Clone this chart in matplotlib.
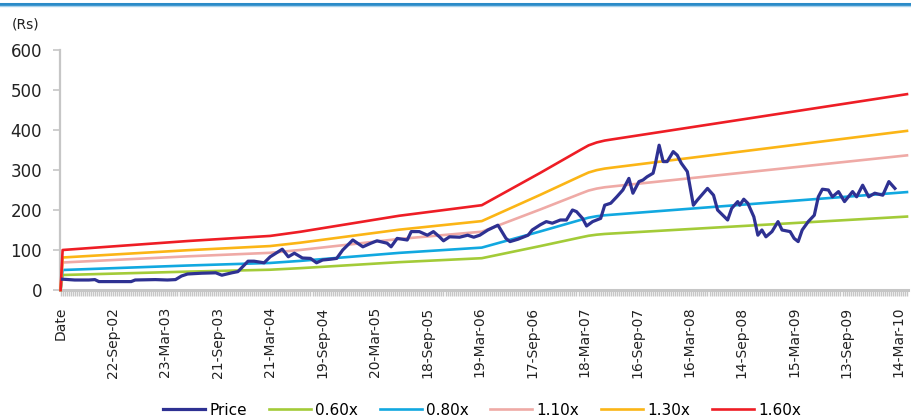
import matplotlib
matplotlib.use("Agg")
import matplotlib.pyplot as plt
from matplotlib.lines import Line2D

# ---------------- data ----------------
n_categories = 421          # "Date" header + 420 weekly observations
tick_step = 26
tick_labels = ["Date", "22-Sep-02", "23-Mar-03", "21-Sep-03", "21-Mar-04", "19-Sep-04",
               "20-Mar-05", "18-Sep-05", "19-Mar-06", "17-Sep-06", "18-Mar-07",
               "16-Sep-07", "16-Mar-08", "14-Sep-08", "15-Mar-09", "13-Sep-09", "14-Mar-10"]

price_week = [1, 7, 14, 17, 19, 27, 35, 37, 47, 53, 57, 60, 63, 70, 77, 80, 85, 88, 93, 96,
              101, 104, 110, 113, 116, 120, 124, 127, 130, 134, 137, 140, 145, 150, 154, 157,
              162, 164, 167, 172, 174, 178, 182, 185, 188, 190, 193, 198, 202, 205, 208, 212,
              217, 218, 221, 223, 227, 232, 234, 238, 241, 244, 248, 251, 254, 256, 259, 261,
              264, 268, 270, 273, 276, 279, 282, 284, 287, 289, 291, 294, 295, 297, 299, 301,
              304, 306, 308, 311, 314, 316, 321, 324, 326, 328, 331, 333, 336, 337, 339, 341,
              344, 346, 348, 350, 353, 356, 358, 362, 364, 366, 368, 371, 374, 376, 378, 381,
              383, 386, 389, 393, 395, 398, 401, 404, 408, 411, 414]
price_value = [27, 25, 25, 26, 21, 21, 21, 25, 26, 25, 26, 35, 40, 42, 43, 37, 43, 46, 72, 72,
               68, 83, 102, 83, 92, 80, 79, 68, 75, 77, 79, 100, 125, 108, 117, 123,
               117, 108, 129, 125, 146, 146, 137, 146, 133, 123, 133, 132, 137, 132, 137, 150,
               162, 154, 129, 121, 127, 137, 150, 163, 171, 167, 175, 175, 200, 196, 179, 160,
               171, 179, 212, 217, 233, 250, 279, 242, 271, 275, 283, 292, 312, 362, 321, 321,
               346, 337, 317, 296, 212, 225, 254, 237, 200, 190, 175, 204, 221, 212, 227, 217,
               183, 137, 150, 133, 146, 171, 150, 146, 129, 121, 150, 171, 187, 233, 252, 250,
               233, 246, 221, 246, 233, 262, 233, 242, 237, 271, 254]

# trailing EPS (Rs) underlying the P/E bands
eps_week = [0, 1, 63, 104, 119, 168, 209, 238, 258, 262, 266, 270, 273, 420]
eps_value = [0, 62.5, 76.5, 84.5, 91, 116, 132.5, 183, 219, 226, 230.5, 233.5, 235, 306]

band_multiples = [0.6, 0.8, 1.1, 1.3, 1.6]
band_labels = ["0.60x", "0.80x", "1.10x", "1.30x", "1.60x"]
band_colors = ["#A3CB38", "#11A8E0", "#EFAAA6", "#FBB516", "#EE1D25"]
price_label = "Price"
price_color = "#2E3192"
y_ticks = [0, 100, 200, 300, 400, 500, 600]

# ---------------- figure ----------------
W, H = 911, 419
fig = plt.figure(figsize=(W / 100, H / 100), dpi=100)
fig.patch.set_facecolor("white")

# top rule
fig.add_artist(Line2D([0, 1], [1 - 4 / H] * 2, color="#2A8BC8", lw=2.2))
fig.add_artist(Line2D([0, 1], [1 - 6.5 / H] * 2, color="#A9D2EC", lw=1.0))

ax = fig.add_axes([60 / W, 129 / H, 848 / W, 240 / H])

handles = []
h, = ax.plot(price_week, price_value, color=price_color, lw=2.3, solid_joinstyle="round",
             zorder=5, label=price_label)
handles.append(h)
for k, (m, lab, col) in enumerate(zip(band_multiples, band_labels, band_colors)):
    h, = ax.plot(eps_week, [m * e for e in eps_value], color=col, lw=1.9, zorder=3 + k * 0.1,
                 label=lab, clip_on=False)
    handles.append(h)

ax.set_xlim(-0.3, n_categories - 0.5)
ax.set_ylim(0, 600)

for s in ["top", "right"]:
    ax.spines[s].set_visible(False)
ax.spines["left"].set_color("#C6C6C6")
ax.spines["left"].set_linewidth(1.6)
ax.spines["bottom"].set_color("#C6C6C6")
ax.spines["bottom"].set_linewidth(2.2)

ax.set_yticks(y_ticks)
ax.set_yticklabels([str(v) for v in y_ticks], fontsize=12, color="#222222")
ax.tick_params(axis="y", length=5, width=1.2, color="#C6C6C6", pad=8)

ax.set_xticks([i * tick_step for i in range(len(tick_labels))])
ax.set_xticklabels(tick_labels, rotation=90, fontsize=10, color="#222222",
                   ha="center", va="top")
ax.set_xticks(range(n_categories), minor=True)
ax.tick_params(axis="x", which="major", length=4, width=1.0, color="#C6C6C6", pad=8)
ax.tick_params(axis="x", which="minor", length=4, width=1.0, color="#C6C6C6")

fig.text(12 / W, 1 - 25 / H, "(Rs)", fontsize=10, color="#222222", va="center", ha="left")

fig.legend(handles=handles, loc="center", bbox_to_anchor=(482 / W, 9 / H), ncol=6,
           frameon=False, fontsize=11, handlelength=2.75, handletextpad=0.25,
           columnspacing=1.45, borderaxespad=0, borderpad=0)

fig.savefig("out.png", dpi=100, facecolor="white")
